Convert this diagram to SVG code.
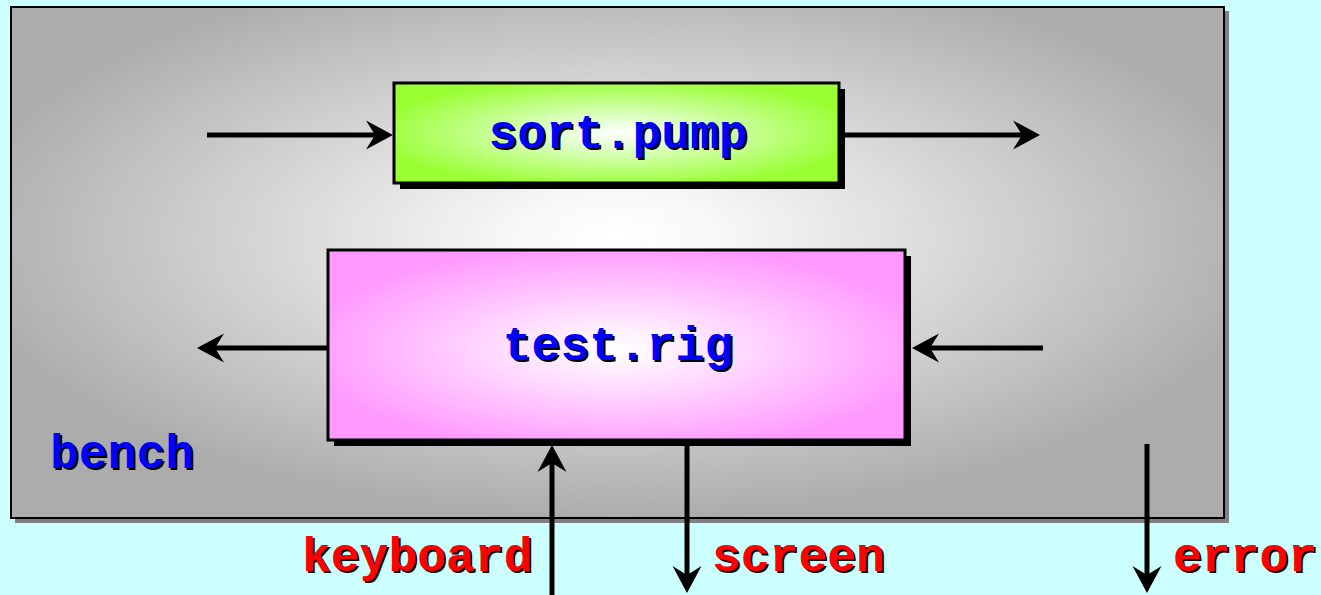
<svg xmlns="http://www.w3.org/2000/svg" width="1321" height="595" viewBox="0 0 1321 595">
  <defs>
    <radialGradient id="benchFill" cx="0.5" cy="0.45" r="0.55">
      <stop offset="0" stop-color="#ffffff"/>
      <stop offset="0.15" stop-color="#f8f8f8"/>
      <stop offset="1" stop-color="#acacac"/>
    </radialGradient>
    <radialGradient id="pumpFill" cx="0.5" cy="0.5" r="0.55">
      <stop offset="0" stop-color="#ffffff"/>
      <stop offset="0.2" stop-color="#e8ffd8"/>
      <stop offset="1" stop-color="#99ff33"/>
    </radialGradient>
    <radialGradient id="rigFill" cx="0.5" cy="0.52" r="0.55">
      <stop offset="0" stop-color="#ffffff"/>
      <stop offset="0.2" stop-color="#ffeeff"/>
      <stop offset="1" stop-color="#ff99ff"/>
    </radialGradient>
    <marker id="head" viewBox="-20 -16 32 32" refX="0" refY="0" markerWidth="32" markerHeight="32" markerUnits="userSpaceOnUse" orient="auto">
      <path d="M10,0 L-17,-14.5 L-8,0 L-17,14.5 Z" fill="#000"/>
    </marker>
    <style>
      .box { stroke: #000; stroke-width: 3; }
      .shadow { fill: #000; }
      .wire { fill: none; stroke: #000; stroke-width: 5; marker-end: url(#head); }
      .lbl { font-family: "Liberation Mono", "DejaVu Sans Mono", monospace; font-weight: bold; font-size: 48px; }
      .sh { fill: #000; }
      .blue { fill: #0000ff; }
      .red { fill: #ff0000; }
    </style>
  </defs>

  <!-- page background -->
  <rect x="0" y="0" width="1321" height="595" fill="#ccffff"/>

  <!-- enclosing bench -->
  <g id="bench">
    <rect x="15" y="11" width="1214" height="512" fill="#808080"/>
    <rect x="11" y="7" width="1213" height="511" fill="url(#benchFill)" stroke="#000" stroke-width="2"/>
    <text class="lbl sh" x="52" y="470">bench</text>
    <text class="lbl blue" x="50" y="468">bench</text>
  </g>

  <!-- pump block -->
  <g id="sort-pump">
    <rect class="shadow" x="400" y="89" width="445" height="100"/>
    <rect class="box" x="394" y="83" width="445" height="100" fill="url(#pumpFill)"/>
    <text class="lbl sh" x="620" y="150" text-anchor="middle">sort.pump</text>
    <text class="lbl blue" x="618" y="148" text-anchor="middle">sort.pump</text>
  </g>

  <!-- rig block -->
  <g id="test-rig">
    <rect class="shadow" x="334" y="256" width="577" height="190"/>
    <rect class="box" x="328" y="250" width="577" height="190" fill="url(#rigFill)"/>
    <text class="lbl sh" x="620" y="362" text-anchor="middle">test.rig</text>
    <text class="lbl blue" x="618" y="360" text-anchor="middle">test.rig</text>
  </g>

  <!-- flows -->
  <g id="connectors">
    <path class="wire" d="M207,135 H383"/>
    <path class="wire" d="M845,135 H1030"/>
    <path class="wire" d="M328,348 H207"/>
    <path class="wire" d="M1043,348 H922"/>
    <path class="wire" d="M552,600 V455"/>
    <path class="wire" d="M687,446 V583"/>
    <path class="wire" d="M1147,444 V583"/>
  </g>

  <!-- external ports -->
  <g id="port-keyboard">
    <text class="lbl sh" x="304" y="573">keyboard</text>
    <text class="lbl red" x="302" y="571">keyboard</text>
  </g>
  <g id="port-screen">
    <text class="lbl sh" x="714" y="573">screen</text>
    <text class="lbl red" x="712" y="571">screen</text>
  </g>
  <g id="port-error">
    <text class="lbl sh" x="1175" y="573">error</text>
    <text class="lbl red" x="1173" y="571">error</text>
  </g>
</svg>
